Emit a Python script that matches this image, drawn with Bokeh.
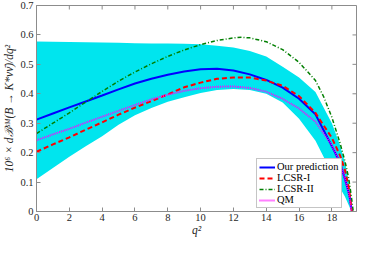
import math
from bokeh.plotting import figure
from bokeh.models import FixedTicker, CustomJSTickFormatter, Range1d, Legend, LegendItem
from bokeh.embed import file_html
from bokeh.resources import INLINE

# ---- data ----
q_ours = [0, 1, 2, 3, 4, 5, 6, 7, 8, 9, 10, 11, 12, 13, 14, 15, 16, 17, 18, 18.5, 18.8, 19.0, 19.1, 19.22]
ours = [0.312, 0.333, 0.354, 0.374, 0.394, 0.415, 0.435, 0.451, 0.465, 0.476, 0.483, 0.485, 0.479,
        0.466, 0.447, 0.421, 0.383, 0.330, 0.222, 0.165, 0.110, 0.070, 0.045, 0.0]

q_lcsr1 = [0, 1, 2, 3, 4, 5, 6, 7, 8, 9, 10, 11, 12, 13, 14, 15, 16, 17, 18, 18.5, 18.8, 19.0, 19.1, 19.22]
lcsr1 = [0.203, 0.228, 0.252, 0.278, 0.303, 0.329, 0.353, 0.375, 0.398, 0.422, 0.438, 0.451, 0.455,
         0.455, 0.445, 0.427, 0.392, 0.335, 0.250, 0.190, 0.140, 0.090, 0.055, 0.0]

q_lcsr2 = [0, 1, 2, 3, 4, 5, 6, 7, 8, 9, 10, 11, 12, 12.5, 13, 14, 15, 16, 17, 17.5, 18, 18.5, 18.8, 19.0, 19.1, 19.2, 19.3]
lcsr2 = [0.265, 0.300, 0.335, 0.372, 0.408, 0.443, 0.474, 0.502, 0.527, 0.549, 0.567, 0.581, 0.590,
         0.592, 0.590, 0.577, 0.550, 0.507, 0.445, 0.390, 0.320, 0.232, 0.170, 0.120, 0.085, 0.045, 0.0]

q_qm = [0, 1, 2, 3, 4, 5, 6, 7, 8, 9, 10, 11, 12, 13, 14, 15, 16, 17, 18, 18.5, 18.8, 19.0, 19.1, 19.2]
qm = [0.242, 0.262, 0.281, 0.302, 0.322, 0.342, 0.362, 0.381, 0.397, 0.410, 0.419, 0.424, 0.425,
      0.420, 0.407, 0.383, 0.350, 0.305, 0.225, 0.165, 0.110, 0.068, 0.042, 0.0]

q_band = [0, 1, 2, 3, 4, 5, 6, 7, 8, 9, 10, 11, 12, 13, 14, 15, 16, 17, 18, 18.5, 18.8, 19.0, 19.1, 19.22]
band_hi = [0.578, 0.577, 0.576, 0.575, 0.574, 0.573, 0.572, 0.571, 0.571, 0.570, 0.568, 0.563, 0.557,
           0.545, 0.527, 0.492, 0.455, 0.406, 0.300, 0.225, 0.165, 0.110, 0.070, 0.0]
band_lo = [0.110, 0.148, 0.186, 0.222, 0.256, 0.295, 0.327, 0.352, 0.373, 0.388, 0.403, 0.413, 0.416,
           0.413, 0.400, 0.370, 0.315, 0.240, 0.130, 0.080, 0.050, 0.025, 0.012, 0.0]

x_ticks = [0, 2, 4, 6, 8, 10, 12, 14, 16, 18]
y_ticks = [0, 0.1, 0.2, 0.3, 0.4, 0.5, 0.6, 0.7]
labels = ["Our prediction", "LCSR-I", "LCSR-II", "QM"]
X_MAX = 19.5
Y_MAX = 0.7

FONT = "Liberation Serif"
AX = "#8c8c8c"
TXT = "#262626"

p = figure(width=358, height=238, output_backend="svg", toolbar_location=None,
           x_range=Range1d(0, X_MAX), y_range=Range1d(0, Y_MAX),
           min_border_left=31, min_border_right=2, min_border_top=5, min_border_bottom=26)
p.xgrid.visible = False
p.ygrid.visible = False
p.outline_line_color = AX
p.background_fill_color = "white"

p.varea(x=q_band, y1=band_lo, y2=band_hi, fill_color="#00E5EE", fill_alpha=1.0)

r_ours = p.line(q_ours, ours, line_color="#0000FF", line_width=2)
r_l1 = p.line(q_lcsr1, lcsr1, line_color="#FF0000", line_width=2, line_dash="5 3")
r_l2 = p.line(q_lcsr2, lcsr2, line_color="#007F00", line_width=1.5, line_dash="4 2 1 2")
r_qm = p.line(q_qm, qm, line_color="#FF00FF", line_width=2, line_dash="1 1")

# inward tick marks on the top and right edges (box on)
p.ray(x=x_ticks, y=[Y_MAX] * len(x_ticks), length=4, length_units="screen",
      angle=-math.pi / 2, line_color=AX, line_width=1)
p.ray(x=[X_MAX] * len(y_ticks), y=y_ticks, length=4, length_units="screen",
      angle=math.pi, line_color=AX, line_width=1)

def style_axis(ax):
    ax.axis_line_color = AX
    ax.major_tick_line_color = AX
    ax.major_tick_in = 4
    ax.major_tick_out = 0
    ax.minor_tick_line_color = None
    ax.major_label_text_font = FONT
    ax.major_label_text_color = TXT
    ax.major_label_text_font_size = "10.5px"
    ax.major_label_standoff = 2

xa = p.xaxis[0]
xa.ticker = FixedTicker(ticks=x_ticks)
style_axis(xa)
xa.axis_label = "q²"
xa.axis_label_text_font = FONT
xa.axis_label_text_font_style = "italic"
xa.axis_label_text_font_size = "11.5px"
xa.axis_label_text_color = TXT
xa.axis_label_standoff = 0

ya = p.yaxis[0]
ya.ticker = FixedTicker(ticks=y_ticks)
ya.formatter = CustomJSTickFormatter(code="return tick == 0 ? '0' : tick.toFixed(1);")
style_axis(ya)
ya.major_label_standoff = 3
ya.axis_label = "10⁶ × dℬˢᴹ(B → K*νν\u0304)/dq²"
ya.axis_label_text_font = FONT
ya.axis_label_text_font_style = "italic"
ya.axis_label_text_font_size = "11.5px"
ya.axis_label_text_color = TXT
ya.axis_label_standoff = 2

legend = Legend(items=[LegendItem(label=labels[0], renderers=[r_ours]),
                       LegendItem(label=labels[1], renderers=[r_l1]),
                       LegendItem(label=labels[2], renderers=[r_l2]),
                       LegendItem(label=labels[3], renderers=[r_qm])],
                location=(220, 3))
legend.label_text_font = FONT
legend.label_text_font_size = "10.5px"
legend.label_text_color = "black"
legend.label_height = 10
legend.glyph_height = 10
legend.glyph_width = 16
legend.label_standoff = 2
legend.padding = 2
legend.spacing = 0
legend.margin = 0
legend.border_line_color = AX
legend.border_line_width = 1
legend.background_fill_alpha = 1.0
p.add_layout(legend, "center")

open("out.html", "w").write(file_html(p, INLINE))
